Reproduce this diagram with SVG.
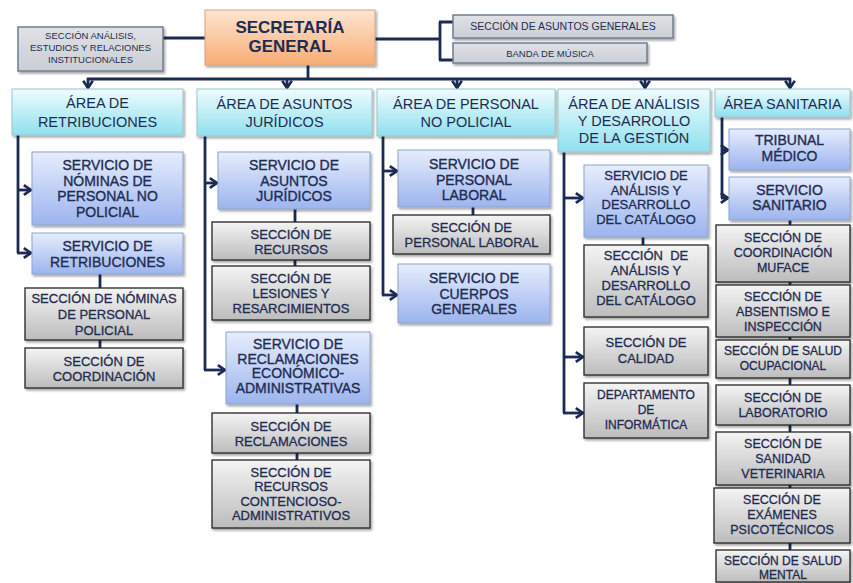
<svg xmlns="http://www.w3.org/2000/svg" width="853" height="583" viewBox="0 0 853 583">
<defs>
<linearGradient id="gOrange" x1="0" y1="0" x2="0" y2="1"><stop offset="0" stop-color="#fde6d2"/><stop offset="1" stop-color="#f8ac74"/></linearGradient>
<linearGradient id="gCyan" x1="0" y1="0" x2="0" y2="1"><stop offset="0" stop-color="#effcfe"/><stop offset="1" stop-color="#8fe0ee"/></linearGradient>
<linearGradient id="gBlue" x1="0" y1="0" x2="0" y2="1"><stop offset="0" stop-color="#e6edfc"/><stop offset="1" stop-color="#9cb4ee"/></linearGradient>
<linearGradient id="gGray" x1="0" y1="0" x2="0" y2="1"><stop offset="0" stop-color="#f4f4f4"/><stop offset="1" stop-color="#bcbcbc"/></linearGradient>
<linearGradient id="gTop" x1="0" y1="0" x2="0" y2="1"><stop offset="0" stop-color="#dfe1e6"/><stop offset="1" stop-color="#cbced5"/></linearGradient>
<filter id="sh" x="-10%" y="-10%" width="130%" height="140%"><feDropShadow dx="1.5" dy="2" stdDeviation="1.2" flood-color="#000" flood-opacity="0.35"/></filter>
<marker id="ar" viewBox="0 0 10 10" refX="8.5" refY="5" markerWidth="12" markerHeight="12" markerUnits="userSpaceOnUse" orient="auto">
<path d="M2.5,1 L8.5,5 L2.5,9" fill="none" stroke="#1c2b55" stroke-width="2.2" stroke-linejoin="miter"/>
</marker>
<style>
.top{fill:url(#gTop);stroke:#6f7d92;stroke-width:1.5;filter:url(#sh)}
.sg{fill:url(#gOrange);stroke:#d9a27c;stroke-width:1;filter:url(#sh)}
.area{fill:url(#gCyan);stroke:#9cc3cc;stroke-width:1;filter:url(#sh)}
.serv{fill:url(#gBlue);stroke:#8ea3cc;stroke-width:1;filter:url(#sh)}
.sec{fill:url(#gGray);stroke:#262626;stroke-width:1.3;filter:url(#sh)}
text{font-family:"Liberation Sans",Arial,Helvetica,sans-serif;fill:#1f2c52;text-anchor:middle}
.ta{font-size:14.5px}
.ts{font-size:14px;stroke:#1f2c52;stroke-width:0.35}
.tc{font-size:13px;stroke:#1f2c52;stroke-width:0.3}
.t12{font-size:12px;stroke:#1f2c52;stroke-width:0.3}
.t125{font-size:12.5px;stroke:#1f2c52;stroke-width:0.3}
.con{fill:none;stroke:#1c2b55;stroke-width:2.8}
.arr{fill:none;stroke:#1c2b55;stroke-width:2.8;marker-end:url(#ar)}
</style>
</defs>
<rect width="853" height="583" fill="#ffffff"/>

<g id="connectors">
<path class="con" d="M163,38 H205"/>
<path class="con" d="M375,39 H440 M440,22 V60 M439,22 H453 M439,60 H453"/>
<path class="con" d="M308,65 V79 M87,79 H791"/>
<path class="arr" d="M88,78 V88"/>
<path class="arr" d="M287,78 V88"/>
<path class="arr" d="M457,78 V88"/>
<path class="arr" d="M645,78 V88"/>
<path class="arr" d="M790,78 V88"/>
<path class="con" d="M18,135 V253"/>
<path class="arr" d="M17,190 H31"/>
<path class="arr" d="M17,253 H31"/>
<path class="con" d="M100,274 V288 M100,340 V348"/>
<path class="con" d="M205,136 V370"/>
<path class="arr" d="M204,183 H217"/>
<path class="arr" d="M204,370 H225"/>
<path class="con" d="M295,209 V222 M295,260 V266 M297,404 V413 M297,453 V460"/>
<path class="con" d="M383,136 V295"/>
<path class="arr" d="M382,171 H397"/>
<path class="arr" d="M382,295 H397"/>
<path class="con" d="M473,207 V215"/>
<path class="con" d="M564,152 V413"/>
<path class="arr" d="M563,198 H583"/>
<path class="arr" d="M563,357 H583"/>
<path class="arr" d="M563,413 H583"/>
<path class="con" d="M643,237 V245"/>
<path class="con" d="M722,117 V198"/>
<path class="arr" d="M721,150 H728"/>
<path class="arr" d="M721,198 H728"/>
<path class="con" d="M790,220 V225 M790,282 V285 M790,337 V340 M790,378 V385 M790,425 V432 M790,485 V488 M790,543 V550"/>
</g>

<g id="secretaria-general"><rect class="sg" x="205" y="10" width="170" height="55"/><text x="290" y="33" style="font-size:17px;font-weight:bold">SECRETARÍA</text><text x="290" y="52" style="font-size:17px;font-weight:bold">GENERAL</text></g>
<g id="seccion-analisis"><rect class="top" x="18" y="27" width="145" height="44"/><text x="90.5" y="39" style="font-size:9.5px">SECCIÓN ANÁLISIS,</text><text x="90.5" y="51" style="font-size:9.5px">ESTUDIOS Y RELACIONES</text><text x="90.5" y="63" style="font-size:9.5px">INSTITUCIONALES</text></g>
<g id="asuntos-generales"><rect class="top" x="453" y="15" width="220" height="23"/><text x="563" y="30" style="font-size:10.5px">SECCIÓN DE ASUNTOS GENERALES</text></g>
<g id="banda-musica"><rect class="top" x="453" y="43" width="194" height="20"/><text x="550" y="57" style="font-size:9.5px">BANDA DE MÚSICA</text></g>

<g id="area-retribuciones"><rect class="area" x="12" y="89" width="171" height="46"/><text class="ta" x="97.5" y="108">ÁREA DE</text><text class="ta" x="97.5" y="127">RETRIBUCIONES</text></g>
<g id="area-juridicos"><rect class="area" x="197" y="89" width="175" height="47"/><text class="ta" x="284.5" y="109">ÁREA DE ASUNTOS</text><text class="ta" x="284.5" y="127">JURÍDICOS</text></g>
<g id="area-personal"><rect class="area" x="377" y="89" width="178" height="47"/><text class="ta" x="466" y="109">ÁREA DE PERSONAL</text><text class="ta" x="466" y="127">NO POLICIAL</text></g>
<g id="area-analisis"><rect class="area" x="558" y="89" width="152" height="63"/><text class="ta" x="634" y="109">ÁREA DE ANÁLISIS</text><text class="ta" x="634" y="126">Y DESARROLLO</text><text class="ta" x="634" y="143">DE LA GESTIÓN</text></g>
<g id="area-sanitaria"><rect class="area" x="715" y="89" width="135" height="28"/><text class="ta" x="782.5" y="109">ÁREA SANITARIA</text></g>

<g id="serv-nominas"><rect class="serv" x="32" y="152" width="151" height="73"/><text class="ts" x="107.5" y="170">SERVICIO DE</text><text class="ts" x="107.5" y="185.5">NÓMINAS DE</text><text class="ts" x="107.5" y="201">PERSONAL NO</text><text class="ts" x="107.5" y="216.5">POLICIAL</text></g>
<g id="serv-retribuciones"><rect class="serv" x="32" y="233" width="151" height="41"/><text class="ts" x="107.5" y="251">SERVICIO DE</text><text class="ts" x="107.5" y="267">RETRIBUCIONES</text></g>
<g id="sec-nominas-policial"><rect class="sec" x="25" y="288" width="158" height="52"/><text class="tc" x="104" y="303">SECCIÓN DE NÓMINAS</text><text class="tc" x="104" y="319">DE PERSONAL</text><text class="tc" x="104" y="335">POLICIAL</text></g>
<g id="sec-coordinacion"><rect class="sec" x="25" y="348" width="158" height="40"/><text class="tc" x="104" y="366">SECCIÓN DE</text><text class="tc" x="104" y="381">COORDINACIÓN</text></g>

<g id="serv-asuntos-juridicos"><rect class="serv" x="218" y="152" width="152" height="57"/><text class="ts" x="294" y="170">SERVICIO DE</text><text class="ts" x="294" y="185.5">ASUNTOS</text><text class="ts" x="294" y="201">JURÍDICOS</text></g>
<g id="sec-recursos"><rect class="sec" x="212" y="222" width="158" height="38"/><text class="tc" x="291" y="238.5">SECCIÓN DE</text><text class="tc" x="291" y="253.5">RECURSOS</text></g>
<g id="sec-lesiones"><rect class="sec" x="212" y="266" width="158" height="54"/><text class="tc" x="291" y="283">SECCIÓN DE</text><text class="tc" x="291" y="298">LESIONES Y</text><text class="tc" x="291" y="313">RESARCIMIENTOS</text></g>
<g id="serv-reclamaciones"><rect class="serv" x="226" y="332" width="144" height="72"/><text class="ts" x="298" y="349">SERVICIO DE</text><text class="ts" x="298" y="363.5">RECLAMACIONES</text><text class="ts" x="298" y="378">ECONÓMICO-</text><text class="ts" x="298" y="392.5">ADMINISTRATIVAS</text></g>
<g id="sec-reclamaciones"><rect class="sec" x="212" y="413" width="158" height="40"/><text class="tc" x="291" y="431">SECCIÓN DE</text><text class="tc" x="291" y="446">RECLAMACIONES</text></g>
<g id="sec-contencioso"><rect class="sec" x="212" y="460" width="158" height="68"/><text class="tc" x="291" y="476.5">SECCIÓN DE</text><text class="tc" x="291" y="491">RECURSOS</text><text class="tc" x="291" y="505.5">CONTENCIOSO-</text><text class="tc" x="291" y="520">ADMINISTRATIVOS</text></g>

<g id="serv-personal-laboral"><rect class="serv" x="398" y="150" width="152" height="57"/><text class="ts" x="474" y="169">SERVICIO DE</text><text class="ts" x="474" y="184.5">PERSONAL</text><text class="ts" x="474" y="200">LABORAL</text></g>
<g id="sec-personal-laboral"><rect class="sec" x="393" y="215" width="157" height="39"/><text class="tc" x="471.5" y="232">SECCIÓN DE</text><text class="tc" x="471.5" y="247">PERSONAL LABORAL</text></g>
<g id="serv-cuerpos-generales"><rect class="serv" x="398" y="264" width="152" height="59"/><text class="ts" x="474" y="283">SERVICIO DE</text><text class="ts" x="474" y="298.5">CUERPOS</text><text class="ts" x="474" y="314">GENERALES</text></g>

<g id="serv-analisis-catalogo"><rect class="serv" x="584" y="165" width="124" height="72"/><text class="tc" x="646" y="180">SERVICIO DE</text><text class="tc" x="646" y="194.5">ANÁLISIS Y</text><text class="tc" x="646" y="209">DESARROLLO</text><text class="tc" x="646" y="223.5">DEL CATÁLOGO</text></g>
<g id="sec-analisis-catalogo"><rect class="sec" x="584" y="245" width="124" height="72"/><text class="tc" x="646" y="260" xml:space="preserve">SECCIÓN  DE</text><text class="tc" x="646" y="275">ANÁLISIS Y</text><text class="tc" x="646" y="290">DESARROLLO</text><text class="tc" x="646" y="305">DEL CATÁLOGO</text></g>
<g id="sec-calidad"><rect class="sec" x="584" y="327" width="124" height="48"/><text class="tc" x="646" y="347">SECCIÓN DE</text><text class="tc" x="646" y="363">CALIDAD</text></g>
<g id="dep-informatica"><rect class="sec" x="584" y="383" width="124" height="55"/><text class="t12" x="646" y="399">DEPARTAMENTO</text><text class="t12" x="646" y="414">DE</text><text class="t12" x="646" y="429">INFORMÁTICA</text></g>

<g id="tribunal-medico"><rect class="serv" x="729" y="129" width="121" height="41"/><text class="ts" x="789.5" y="145">TRIBUNAL</text><text class="ts" x="789.5" y="160.5">MÉDICO</text></g>
<g id="serv-sanitario"><rect class="serv" x="729" y="177" width="121" height="43"/><text class="ts" x="789.5" y="194.5">SERVICIO</text><text class="ts" x="789.5" y="210">SANITARIO</text></g>
<g id="sec-muface"><rect class="sec" x="716" y="225" width="134" height="57"/><text class="t125" x="783" y="242">SECCIÓN DE</text><text class="t125" x="783" y="257">COORDINACIÓN</text><text class="t125" x="783" y="272">MUFACE</text></g>
<g id="sec-absentismo"><rect class="sec" x="716" y="285" width="134" height="52"/><text class="t125" x="783" y="300.5">SECCIÓN DE</text><text class="t125" x="783" y="315.5">ABSENTISMO E</text><text class="t125" x="783" y="330.5">INSPECCIÓN</text></g>
<g id="sec-salud-ocupacional"><rect class="sec" x="716" y="340" width="134" height="38"/><text class="t12" x="783" y="355">SECCIÓN DE SALUD</text><text class="t12" x="783" y="370">OCUPACIONAL</text></g>
<g id="sec-laboratorio"><rect class="sec" x="716" y="385" width="134" height="40"/><text class="t125" x="783" y="401.5">SECCIÓN DE</text><text class="t125" x="783" y="416.5">LABORATORIO</text></g>
<g id="sec-veterinaria"><rect class="sec" x="716" y="432" width="134" height="53"/><text class="t125" x="783" y="448">SECCIÓN DE</text><text class="t125" x="783" y="463">SANIDAD</text><text class="t125" x="783" y="478">VETERINARIA</text></g>
<g id="sec-examenes"><rect class="sec" x="714" y="488" width="136" height="55"/><text class="t125" x="782" y="503.5">SECCIÓN DE</text><text class="t125" x="782" y="518.5">EXÁMENES</text><text class="t125" x="782" y="533.5">PSICOTÉCNICOS</text></g>
<g id="sec-salud-mental"><rect class="sec" x="716" y="550" width="134" height="32"/><text class="t12" x="783" y="564.5">SECCIÓN DE SALUD</text><text class="t12" x="783" y="578.5">MENTAL</text></g>
</svg>
